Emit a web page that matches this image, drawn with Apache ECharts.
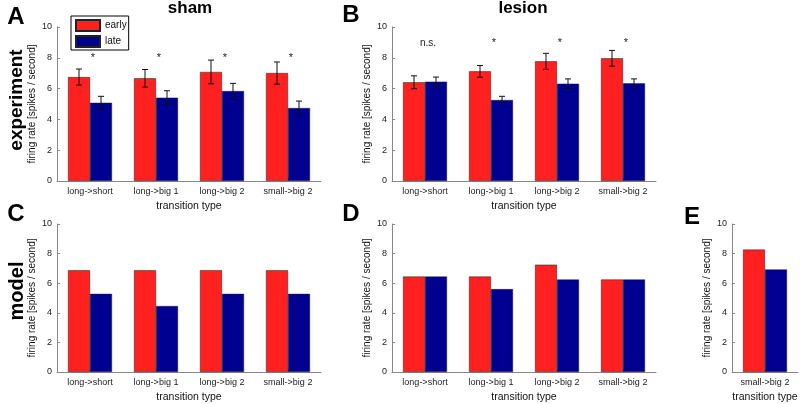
<!DOCTYPE html>
<html>
<head>
<meta charset="utf-8">
<script src="https://cdn.jsdelivr.net/npm/echarts@6/dist/echarts.min.js"></script>
<style>
  html, body { margin: 0; padding: 0; background: #fff; }
  #chart { width: 800px; height: 404px; }
</style>
</head>
<body>
<div id="chart"></div>
<script>
// categories
const cats = ['long->short', 'long->big 1', 'long->big 2', 'small->big 2'];
const catsE = ['small->big 2'];
const yTicks = [0, 2, 4, 6, 8, 10];

// experiment: sham (A)
const shamEarly = [6.75, 6.67, 7.08, 7.01];
const shamEarlyErr = [0.52, 0.57, 0.77, 0.72];
const shamLate = [5.08, 5.41, 5.84, 4.74];
const shamLateErr = [0.42, 0.45, 0.50, 0.45];
const shamSig = ['*', '*', '*', '*'];

// experiment: lesion (B)
const lesionEarly = [6.41, 7.12, 7.77, 7.97];
const lesionEarlyErr = [0.42, 0.38, 0.52, 0.51];
const lesionLate = [6.45, 5.26, 6.32, 6.34];
const lesionLateErr = [0.30, 0.24, 0.31, 0.29];
const lesionSig = ['n.s.', '*', '*', '*'];

// model (C, D, E)
const modelShamEarly = [6.88, 6.88, 6.88, 6.88];
const modelShamLate = [5.28, 4.46, 5.28, 5.28];
const modelLesionEarly = [6.45, 6.45, 7.25, 6.25];
const modelLesionLate = [6.45, 5.60, 6.25, 6.25];
const modelEEarly = [8.27];
const modelELate = [6.93];

const RED = '#ff2020';
const BLUE = '#000090';
const FONT = 'Liberation Sans, Arial, sans-serif';

const chart = echarts.init(document.getElementById('chart'));

const grids = [
  { left: 57, top: 27, width: 264, height: 154 },   // A
  { left: 392, top: 27, width: 264, height: 154 },  // B
  { left: 57, top: 224, width: 264, height: 154 },  // C
  { left: 392, top: 224, width: 264, height: 154 }, // D
  { left: 732, top: 224, width: 66, height: 154 }   // E
];

const xAxes = grids.map((g, i) => ({
  type: 'category',
  gridIndex: i,
  data: i === 4 ? catsE : cats,
  name: 'transition type',
  nameLocation: 'middle',
  nameGap: 20,
  nameTextStyle: { fontFamily: FONT, fontSize: 10.5, color: '#111' },
  axisLine: { lineStyle: { color: '#888', width: 1 } },
  axisTick: { show: true, inside: true, length: 3, alignWithLabel: true, lineStyle: { color: '#888' } },
  axisLabel: { interval: 0, fontFamily: FONT, fontSize: 9, color: '#222', margin: 6 },
  splitLine: { show: false }
}));

const yAxes = grids.map((g, i) => ({
  type: 'value',
  gridIndex: i,
  min: yTicks[0],
  max: yTicks[yTicks.length - 1],
  interval: 2,
  name: 'firing rate [spikes / second]',
  nameLocation: 'middle',
  nameGap: 20,
  nameTextStyle: { fontFamily: FONT, fontSize: 10, color: '#111' },
  axisLine: { show: true, lineStyle: { color: '#888', width: 1 } },
  axisTick: { show: true, inside: true, length: 3, lineStyle: { color: '#888' } },
  axisLabel: { fontFamily: FONT, fontSize: 9, color: '#222', margin: 5 },
  splitLine: { show: false }
}));

function barSeries(name, color, data, idx) {
  return {
    name: name,
    type: 'bar',
    xAxisIndex: idx,
    yAxisIndex: idx,
    data: data,
    barGap: '0%',
    barCategoryGap: '33.3%',
    itemStyle: { color: color, borderColor: '#222', borderWidth: 0.5 },
    emphasis: { disabled: true },
    silent: true
  };
}

// error bars, side = -1 for early (left bar), +1 for late (right bar)
function errSeries(means, errs, side, idx) {
  return {
    type: 'custom',
    xAxisIndex: idx,
    yAxisIndex: idx,
    silent: true,
    z: 5,
    data: means.map((m, i) => [i, m, errs[i]]),
    encode: { x: 0, y: 1 },
    renderItem: function (params, api) {
      const x = api.value(0), m = api.value(1), e = api.value(2);
      const top = api.coord([x, m + e]);
      const bot = api.coord([x, m - e]);
      const w = api.size([1, 0])[0];
      const cx = top[0] + side * w / 6;
      const cap = 3;
      const st = { stroke: '#111', lineWidth: 1 };
      return {
        type: 'group',
        children: [
          { type: 'line', shape: { x1: cx, y1: top[1], x2: cx, y2: bot[1] }, style: st },
          { type: 'line', shape: { x1: cx - cap, y1: top[1], x2: cx + cap, y2: top[1] }, style: st },
          { type: 'line', shape: { x1: cx - cap, y1: bot[1], x2: cx + cap, y2: bot[1] }, style: st }
        ]
      };
    }
  };
}

// significance labels above each group
function sigSeries(labels, yVal, starDy, idx) {
  return {
    type: 'custom',
    xAxisIndex: idx,
    yAxisIndex: idx,
    silent: true,
    z: 6,
    data: labels.map((s, i) => [i, yVal]),
    encode: { x: 0, y: 1 },
    renderItem: function (params, api) {
      const p = api.coord([api.value(0), api.value(1)]);
      const txt = labels[params.dataIndex];
      const star = txt === '*';
      return {
        type: 'text',
        style: {
          text: txt,
          x: p[0] + 3,
          y: p[1] + (star ? starDy : 0),
          align: 'center',
          verticalAlign: 'middle',
          font: (star ? '11px ' : '10px ') + FONT,
          fill: '#222'
        }
      };
    }
  };
}

const series = [
  barSeries('early', RED, shamEarly, 0),
  barSeries('late', BLUE, shamLate, 0),
  errSeries(shamEarly, shamEarlyErr, -1, 0),
  errSeries(shamLate, shamLateErr, 1, 0),
  sigSeries(shamSig, 8.1, 2, 0),

  barSeries('early', RED, lesionEarly, 1),
  barSeries('late', BLUE, lesionLate, 1),
  errSeries(lesionEarly, lesionEarlyErr, -1, 1),
  errSeries(lesionLate, lesionLateErr, 1, 1),
  sigSeries(lesionSig, 8.96, 0, 1),

  barSeries('early', RED, modelShamEarly, 2),
  barSeries('late', BLUE, modelShamLate, 2),

  barSeries('early', RED, modelLesionEarly, 3),
  barSeries('late', BLUE, modelLesionLate, 3),

  barSeries('early', RED, modelEEarly, 4),
  barSeries('late', BLUE, modelELate, 4)
];

function bigText(text, x, y, size, rotation) {
  return {
    type: 'text',
    x: x,
    y: y,
    rotation: rotation || 0,
    style: {
      text: text,
      font: 'bold ' + size + 'px ' + FONT,
      fill: '#000',
      align: 'center',
      verticalAlign: 'middle'
    }
  };
}

chart.setOption({
  animation: false,
  backgroundColor: '#fff',
  grid: grids,
  xAxis: xAxes,
  yAxis: yAxes,
  legend: {
    data: ['early', 'late'],
    orient: 'vertical',
    left: 71,
    top: 16,
    padding: [3, 2, 2, 4],
    itemGap: 3,
    itemWidth: 24,
    itemHeight: 11,
    icon: 'rect',
    borderColor: '#000',
    borderWidth: 1,
    selectedMode: false,
    textStyle: { fontFamily: FONT, fontSize: 10, lineHeight: 11, color: '#111', padding: [0, 0, 0, 0] }
  },
  graphic: [
    bigText('sham', 190, 8, 17),
    bigText('lesion', 523, 8, 17),
    bigText('A', 16, 17, 24),
    bigText('B', 351, 15, 24),
    bigText('C', 16, 214, 24),
    bigText('D', 351, 214, 24),
    bigText('E', 692, 217, 24),
    bigText('experiment', 17, 100, 19, Math.PI / 2),
    bigText('model', 17, 291, 20, Math.PI / 2)
  ],
  series: series
});
</script>
</body>
</html>
